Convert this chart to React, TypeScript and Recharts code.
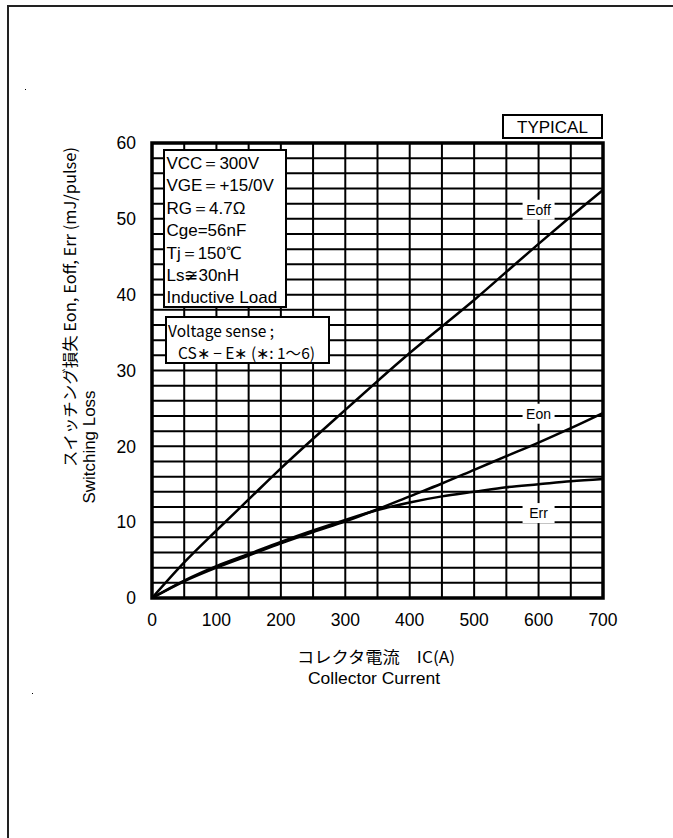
import React from "react";
import { LineChart, Line, XAxis, YAxis, CartesianGrid, ReferenceArea, ReferenceDot } from "recharts";

// collector current Ic (A)
const currents = [0, 50, 100, 150, 200, 250, 300, 350, 400, 450, 500, 550, 600, 650, 700];
// switching loss (mJ/pulse)
const eoff = [0, 4.7, 8.9, 13.0, 17.1, 21.0, 24.8, 28.6, 32.3, 35.8, 39.3, 43.0, 46.7, 50.3, 53.8];
const eon = [0, 2.2, 4.0, 5.6, 7.2, 8.7, 10.1, 11.7, 13.4, 15.1, 16.9, 18.7, 20.5, 22.4, 24.4];
const err = [0, 2.3, 4.2, 5.8, 7.4, 8.9, 10.3, 11.6, 12.6, 13.4, 14.0, 14.6, 15.0, 15.4, 15.7];

const xTicks = [0, 50, 100, 150, 200, 250, 300, 350, 400, 450, 500, 550, 600, 650, 700];
const yTicks = [0, 2, 4, 6, 8, 10, 12, 14, 16, 18, 20, 22, 24, 26, 28, 30, 32, 34, 36, 38, 40, 42, 44, 46, 48, 50, 52, 54, 56, 58, 60];

const curveLabels = [
  { name: "Eoff", x: 600, y: 51.2 },
  { name: "Eon", x: 600, y: 24.3 },
  { name: "Err", x: 600, y: 11.2 },
];

const conditions = ["VCC\uFF1D300V", "VGE\uFF1D+15/0V", "RG\uFF1D4.7\u03A9", "Cge=56nF", "Tj\uFF1D150\u2103", "Ls\u224630nH", "Inductive Load"];

const data = currents.map((ic, i) => ({ ic, eoff: eoff[i], eon: eon[i], err: err[i] }));

const sans = "'Liberation Sans', Arial, sans-serif";
const jp = "'Noto Sans CJK JP', sans-serif";

function CurveTag(props: any) {
  const { cx, cy, text } = props;
  if (cx == null || cy == null) return null;
  return (
    <g>
      <rect x={cx - 16} y={cy - 10} width={32} height={20} fill="#fff" />
      <text x={cx} y={cy + 5} textAnchor="middle" fontSize={14} fontFamily={sans} fill="#000">
        {text}
      </text>
    </g>
  );
}

export default function App() {
  return (
    <div style={{ position: "absolute", left: 0, top: 0, width: 673, height: 838, overflow: "hidden", background: "#fff" }}>
      {/* page frame */}
      <div style={{ position: "absolute", left: 7, top: 5, width: 720, height: 900, border: "2px solid #222" }} />
      <div style={{ position: "absolute", left: 25, top: 89, width: 1, height: 1, background: "#000" }} />
      <div style={{ position: "absolute", left: 32, top: 693, width: 1, height: 1, background: "#000" }} />

      <div style={{ position: "absolute", left: 0, top: 0 }}>
        <LineChart width={673} height={838} data={data} margin={{ top: 143, right: 70, bottom: 210, left: 112 }}>
          <CartesianGrid stroke="#000" strokeWidth={2} horizontalValues={yTicks} verticalValues={xTicks} />
          <XAxis
            dataKey="ic"
            type="number"
            domain={[0, 700]}
            ticks={xTicks}
            interval={0}
            tickFormatter={(v: number) => (v % 100 === 0 ? String(v) : "")}
            tickLine={false}
            axisLine={false}
            tickMargin={10}
            tick={{ fill: "#000", fontSize: 17.5, fontFamily: sans }}
          />
          <YAxis
            type="number"
            domain={[0, 60]}
            ticks={yTicks}
            interval={0}
            tickFormatter={(v: number) => (v % 10 === 0 ? String(v) : "")}
            tickLine={false}
            axisLine={false}
            tickMargin={10}
            width={40}
            tick={{ fill: "#000", fontSize: 17.5, fontFamily: sans }}
          />
          <ReferenceArea x1={0} x2={700} y1={0} y2={60} fill="none" stroke="#000" strokeWidth={3.5} fillOpacity={0} />
          <Line type="monotone" dataKey="eoff" stroke="#000" strokeWidth={2.5} dot={false} isAnimationActive={false} />
          <Line type="monotone" dataKey="eon" stroke="#000" strokeWidth={2.5} dot={false} isAnimationActive={false} />
          <Line type="monotone" dataKey="err" stroke="#000" strokeWidth={2.5} dot={false} isAnimationActive={false} />
          {curveLabels.map((c) => (
            <ReferenceDot key={c.name} x={c.x} y={c.y} r={0} shape={(p: any) => <CurveTag {...p} text={c.name} />} />
          ))}
        </LineChart>
      </div>

      <svg width={673} height={838} style={{ position: "absolute", left: 0, top: 0, pointerEvents: "none" }}>
        {/* TYPICAL */}
        <rect x={503} y={115} width={99} height={23} fill="#fff" stroke="#000" strokeWidth={2} />
        <text x={552.5} y={133} textAnchor="middle" fontSize={17} fontFamily={sans} fill="#000">TYPICAL</text>

        {/* test conditions */}
        <rect x={164} y={150} width={122} height={157} fill="#fff" stroke="#000" strokeWidth={2} />
        {conditions.map((t, i) => (
          <text key={t} x={166.5} y={169 + i * 22.4} fontSize={17} fontFamily={sans} fill="#000">
            {t}
          </text>
        ))}

        <rect x={166} y={317} width={163} height={46} fill="#fff" stroke="#000" strokeWidth={2} />
        <text x={168} y={337} fontSize={15.5} fontFamily={jp} fill="#000">Voltage sense ;</text>
        <text x={178} y={359} fontSize={15.5} fontFamily={jp} fill="#000" textLength={137} lengthAdjust="spacingAndGlyphs">
          {"CS\u2217 \u2212 E\u2217 (\u2217: 1\uFF5E6)"}
        </text>

        {/* axis titles */}
        <text x={376} y={663} textAnchor="middle" fontSize={16} fontFamily={jp} fill="#000" textLength={158} lengthAdjust="spacingAndGlyphs">
          {"\u30B3\u30EC\u30AF\u30BF\u96FB\u6D41\u3000IC(A)"}
        </text>
        <text x={374} y={684} textAnchor="middle" fontSize={17} fontFamily={sans} fill="#000" textLength={132} lengthAdjust="spacingAndGlyphs">
          Collector Current
        </text>

        <text
          transform="translate(76 307) rotate(-90)"
          textAnchor="middle"
          fontSize={16}
          fontFamily={jp}
          fill="#000"
          textLength={320}
          lengthAdjust="spacingAndGlyphs"
        >
          {"\u30B9\u30A4\u30C3\u30C1\u30F3\u30B0\u640D\u5931 Eon, Eoff, Err (mJ/pulse)"}
        </text>
        <text
          transform="translate(95 447) rotate(-90)"
          textAnchor="middle"
          fontSize={17}
          fontFamily={sans}
          fill="#000"
          textLength={113}
          lengthAdjust="spacingAndGlyphs"
        >
          Switching Loss
        </text>
      </svg>
    </div>
  );
}
